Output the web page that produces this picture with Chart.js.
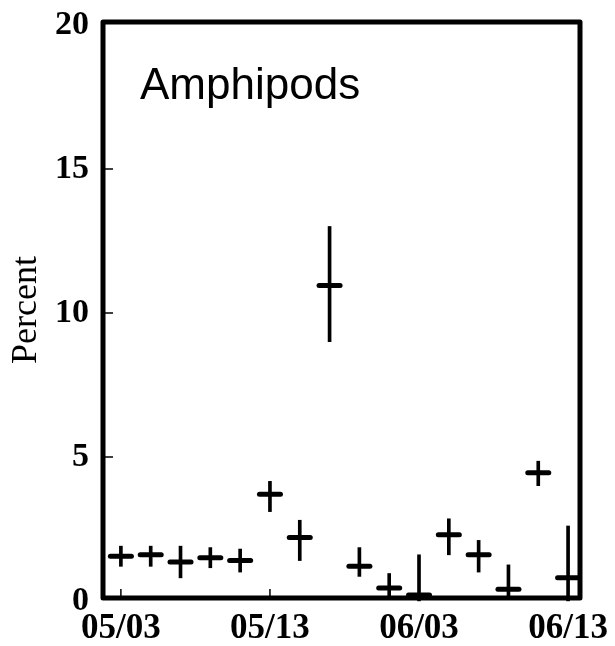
<!DOCTYPE html>
<html>
<head>
<meta charset="utf-8">
<script src="https://cdn.jsdelivr.net/npm/chart.js@4/dist/chart.umd.min.js"></script>
<style>
  html, body { margin: 0; padding: 0; background: #fff; }
  #wrap { width: 615px; height: 646px; }
</style>
</head>
<body>
<div id="wrap"><canvas id="myChart"></canvas></div>
<script>
// sampling dates shown on the x axis and the sample index they sit at
const dateLabels = ['05/03', '05/13', '06/03', '06/13'];
const datePositions = [0, 5, 10, 15];

// mean percent per sample, with lower and upper ends of the error bar
const means = [1.55, 1.6, 1.35, 1.5, 1.4, 3.7, 2.2, 10.95, 1.2, 0.45, 0.2, 2.3, 1.6, 0.4, 4.45, 0.8];
const lower = [1.2, 1.2, 0.8, 1.15, 1.0, 3.1, 1.4, 9.0, 0.85, 0.15, 0, 1.6, 1.0, 0.1, 4.0, 0];
const upper = [1.9, 1.9, 1.9, 1.85, 1.8, 4.15, 2.8, 13.0, 1.85, 0.95, 1.6, 2.85, 2.1, 1.25, 4.85, 2.6];

const yTicks = [0, 5, 10, 15, 20];

const panelTitle = 'Amphipods';

// frame, inward ticks and panel caption
const framePlugin = {
    id: 'frame',
    beforeDatasetsDraw(chart) {
        chart.ctx.save();
        chart.ctx.lineCap = 'round';
    },
    afterDatasetsDraw(chart) {
        chart.ctx.restore();
    },
    afterDraw(chart) {
        const { ctx, chartArea: a, scales } = chart;
        ctx.save();
        ctx.strokeStyle = '#000';
        // small inward ticks
        ctx.lineWidth = 1.5;
        ctx.beginPath();
        yTicks.slice(1, -1).forEach(v => {
            const y = scales.y.getPixelForValue(v);
            ctx.moveTo(a.left, y);
            ctx.lineTo(a.left + 10, y);
        });
        datePositions.forEach(v => {
            const x = scales.x.getPixelForValue(v);
            ctx.moveTo(x, a.bottom);
            ctx.lineTo(x, a.bottom - 9);
        });
        ctx.stroke();
        // thick box
        ctx.lineWidth = 5;
        ctx.lineJoin = 'round';
        ctx.strokeRect(a.left, a.top, a.right - a.left, a.bottom - a.top);
        // caption
        ctx.fillStyle = '#000';
        ctx.font = '44px "Liberation Sans", Arial, sans-serif';
        ctx.textBaseline = 'alphabetic';
        ctx.fillText(panelTitle, a.left + 37, a.top + 77);
        ctx.restore();
    }
};

const ctx = document.getElementById('myChart').getContext('2d');

new Chart(ctx, {
    type: 'bar',
    data: {
        datasets: [{
            type: 'bar',
            data: means.map((m, i) => ({ x: i, y: [lower[i], upper[i]] })),
            backgroundColor: '#000',
            borderWidth: 0,
            barThickness: 3,
            clip: false
        }, {
            type: 'scatter',
            data: means.map((m, i) => ({ x: i, y: m })),
            pointStyle: 'line',
            pointRadius: 10.5,
            pointHoverRadius: 10.5,
            borderColor: '#000',
            borderWidth: 5,
            clip: false
        }]
    },
    options: {
        responsive: true,
        maintainAspectRatio: false,
        animation: false,
        layout: {
            padding: { top: 22, right: 35, left: 0, bottom: 0 }
        },
        plugins: {
            legend: { display: false },
            tooltip: { enabled: false }
        },
        scales: {
            x: {
                type: 'linear',
                offset: false,
                min: -0.6,
                max: 15.4,
                grid: { display: false, drawTicks: false, offset: false },
                border: { display: false },
                afterBuildTicks: scale => {
                    scale.ticks = datePositions.map(v => ({ value: v }));
                },
                afterFit: scale => {
                    scale.height = 48;
                    scale.paddingLeft = 0;
                    scale.paddingRight = 0;
                },
                ticks: {
                    color: '#000',
                    padding: 10,
                    maxRotation: 0,
                    autoSkip: false,
                    font: { family: 'Liberation Serif', weight: 'bold', size: 35 },
                    callback: v => dateLabels[datePositions.indexOf(v)]
                }
            },
            y: {
                min: 0.1,
                max: 20.1,
                grid: { display: false, drawTicks: false },
                border: { display: false },
                afterBuildTicks: scale => {
                    scale.ticks = yTicks.map(v => ({ value: v }));
                },
                afterFit: scale => {
                    scale.width = 103;
                    scale.paddingTop = 0;
                    scale.paddingBottom = 0;
                },
                ticks: {
                    color: '#000',
                    padding: 14,
                    font: { family: 'Liberation Serif', weight: 'bold', size: 34 }
                },
                title: {
                    display: true,
                    text: 'Percent',
                    color: '#000',
                    padding: { top: 5, bottom: 0 },
                    font: { family: 'Liberation Serif', size: 36 }
                }
            }
        }
    },
    plugins: [framePlugin]
});
</script>
</body>
</html>
